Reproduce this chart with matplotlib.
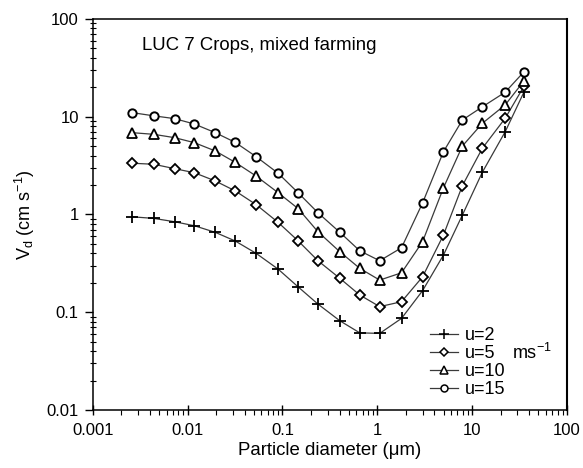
import matplotlib
matplotlib.use("Agg")
import matplotlib.pyplot as plt
from matplotlib.ticker import LogLocator, FixedLocator, FixedFormatter, NullFormatter
from matplotlib.lines import Line2D

plt.rcParams['font.family'] = ['Liberation Sans', 'DejaVu Sans']

# Particle diameters (um)
diameter = [0.0026, 0.0044, 0.0073, 0.0118, 0.0196, 0.0318, 0.0528, 0.090, 0.146,
            0.237, 0.403, 0.653, 1.06, 1.80, 3.00, 4.98, 7.89, 12.8, 22.3, 35.3]

# Deposition velocity (cm s-1) for wind speeds u
vd_u2 = [0.946, 0.911, 0.842, 0.766, 0.656, 0.535, 0.400, 0.276, 0.182, 0.121,
         0.0817, 0.0615, 0.0607, 0.0864, 0.166, 0.384, 0.986, 2.70, 7.02, 18.0]
vd_u5 = [3.34, 3.26, 2.94, 2.67, 2.20, 1.74, 1.26, 0.830, 0.538, 0.336,
         0.222, 0.150, 0.114, 0.128, 0.230, 0.615, 1.97, 4.75, 9.64, 20.6]
vd_u10 = [6.86, 6.60, 6.10, 5.42, 4.46, 3.41, 2.47, 1.67, 1.15, 0.665,
          0.415, 0.281, 0.213, 0.253, 0.526, 1.87, 5.01, 8.55, 13.2, 23.3]
vd_u15 = [11.0, 10.2, 9.55, 8.41, 6.86, 5.46, 3.90, 2.64, 1.67, 1.04,
          0.656, 0.425, 0.336, 0.456, 1.31, 4.38, 9.25, 12.6, 17.8, 28.9]

series_labels = ["u=2", "u=5", "u=10", "u=15"]
x_ticks = [0.001, 0.01, 0.1, 1, 10, 100]
x_ticklabels = ["0.001", "0.01", "0.1", "1", "10", "100"]
y_ticks = [0.01, 0.1, 1, 10, 100]
y_ticklabels = ["0.01", "0.1", "1", "10", "100"]

fig = plt.figure(figsize=(5.83, 4.68), dpi=100)
ax = fig.add_axes([0.159, 0.124, 0.8136, 0.8356])

styles = [
    dict(marker='+', ms=8.5, mew=1.3),
    dict(marker='D', ms=5.0, mew=1.3, mfc='white'),
    dict(marker='^', ms=7.2, mew=1.3, mfc='white'),
    dict(marker='o', ms=6.0, mew=1.4, mfc='white'),
]
leg_styles = [
    dict(marker='+', ms=7, mew=1.1),
    dict(marker='D', ms=4.2, mew=1.1, mfc='white'),
    dict(marker='^', ms=6.2, mew=1.1, mfc='white'),
    dict(marker='o', ms=5.0, mew=1.1, mfc='white'),
]
all_series = [vd_u2, vd_u5, vd_u10, vd_u15]
handles = []
for vals, st, lst in zip(all_series, styles, leg_styles):
    ax.plot(diameter, vals, color='#3a3a3a', lw=0.9, zorder=2)
    ax.plot(diameter, vals, ls='none', color='black', mec='black', zorder=3, **st)
    handles.append(Line2D([], [], color='#3a3a3a', lw=0.9, mec='black', **lst))

ax.set_xscale('log')
ax.set_yscale('log')
ax.set_xlim(0.001, 100)
ax.set_ylim(0.01, 100)

ax.xaxis.set_major_locator(FixedLocator(x_ticks))
ax.xaxis.set_major_formatter(FixedFormatter(x_ticklabels))
ax.yaxis.set_major_locator(FixedLocator(y_ticks))
ax.yaxis.set_major_formatter(FixedFormatter(y_ticklabels))
ax.xaxis.set_minor_locator(LogLocator(base=10, subs=range(2, 10), numticks=20))
ax.yaxis.set_minor_locator(LogLocator(base=10, subs=range(2, 10), numticks=20))
ax.xaxis.set_minor_formatter(NullFormatter())
ax.yaxis.set_minor_formatter(NullFormatter())

ax.tick_params(axis='x', which='major', direction='inout', length=7, width=1, labelsize=12, pad=6)
ax.tick_params(axis='x', which='minor', direction='out', length=3.5, width=0.8)
ax.tick_params(axis='y', which='major', direction='out', length=6, width=1, labelsize=12, pad=4)
ax.tick_params(axis='y', which='minor', direction='inout', length=4, width=0.8)
ax.tick_params(top=False, right=False, which='both')

for sp in ax.spines.values():
    sp.set_linewidth(1.1)
ax.spines['right'].set_linewidth(1.5)

ax.set_xlabel("Particle diameter (\u03bcm)", fontsize=13.4, labelpad=3)
ax.set_ylabel("V$_\\mathregular{d}$ (cm s$^\\mathregular{-1}$)", fontsize=13, labelpad=7)

ax.text(0.104, 0.931, "LUC 7 Crops, mixed farming", transform=ax.transAxes,
        fontsize=13.4, ha='left', va='center')

leg = ax.legend(handles, series_labels, loc='lower left', bbox_to_anchor=(0.695, 0.012),
                frameon=False, fontsize=13, handlelength=1.6, handletextpad=0.35,
                labelspacing=0.05, borderaxespad=0)
ax.text(0.885, 0.145, "ms$^\\mathregular{-1}$", transform=ax.transAxes,
        fontsize=13, ha='left', va='center')

fig.savefig("out.png", dpi=100)
